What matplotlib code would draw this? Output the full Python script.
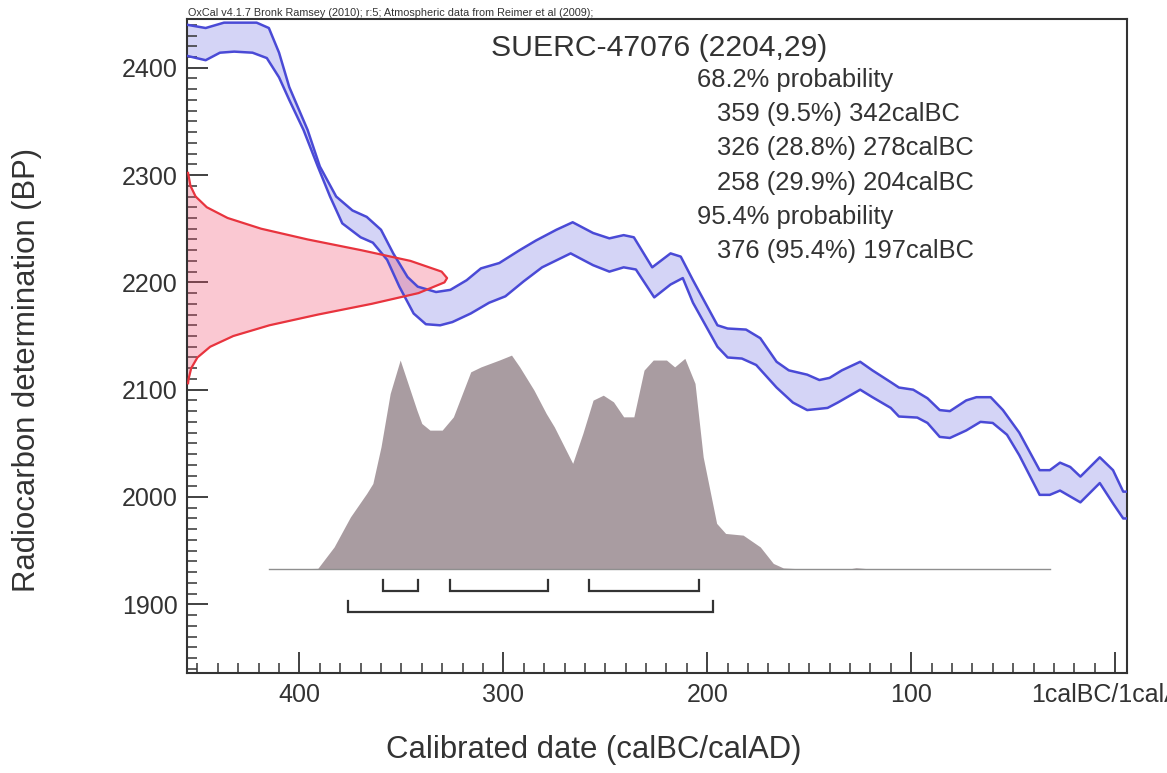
import numpy as np
import matplotlib
matplotlib.use("Agg")
import matplotlib.pyplot as plt

plt.rcParams['font.family'] = ['Liberation Sans', 'DejaVu Sans']

# ---------------- data ----------------
# calibration curve (IntCal09) band: upper and lower edges (calBC, BP)
upper_year = [455, 446, 437, 421, 415, 410, 405, 396, 390, 382, 374, 367, 360, 354, 347, 342,
              333, 326, 318, 311, 302, 292, 284, 274, 266, 256, 248, 241, 236, 227, 218, 213,
              207, 195, 190, 181, 174, 166, 160, 151, 145, 140, 134, 125, 119, 110, 106, 99,
              92, 86, 81, 73, 68, 61, 55, 47, 37, 32, 27, 22, 17, 7.5, 1, -4, -6]
upper_bp = [2440, 2437, 2442, 2442, 2437, 2414, 2382, 2342, 2308, 2280, 2267, 2261, 2249, 2227, 2205, 2196,
            2191, 2193, 2202, 2213, 2218, 2230, 2239, 2249, 2256, 2246, 2241, 2244, 2242, 2214, 2227, 2224,
            2202, 2160, 2157, 2156, 2148, 2126, 2118, 2114, 2109, 2111, 2118, 2126, 2118, 2107, 2102, 2100,
            2092, 2081, 2080, 2090, 2093, 2093, 2081, 2060, 2025, 2025, 2032, 2028, 2019, 2037, 2025, 2005, 2005]
lower_year = [455, 446, 439, 432, 423, 416, 410, 405, 398, 391, 385, 379, 370, 364, 357, 351, 344,
              338, 331, 325, 316, 307, 299, 290, 281, 267, 256, 248, 241, 235, 226, 218, 212, 207,
              195, 190, 183, 176, 166, 158, 151, 141, 136, 125, 119, 110, 106, 97, 92, 86, 81, 73,
              66, 60, 53, 47, 37, 32, 27, 17, 7.5, 1, -4, -6]
lower_bp = [2411, 2407, 2414, 2415, 2414, 2409, 2391, 2370, 2342, 2308, 2280, 2255, 2242, 2237, 2221, 2196, 2171,
            2161, 2160, 2163, 2171, 2181, 2187, 2201, 2214, 2227, 2216, 2210, 2214, 2212, 2186, 2198, 2204, 2181,
            2140, 2130, 2129, 2123, 2102, 2088, 2081, 2083, 2088, 2100, 2093, 2083, 2075, 2074, 2069, 2056, 2055, 2062,
            2070, 2069, 2058, 2039, 2002, 2002, 2006, 1995, 2013, 1994, 1980, 1980]

c14_bp = [2302, 2290, 2280, 2270, 2260, 2250, 2240, 2230, 2220, 2210, 2204,
          2200, 2190, 2180, 2170, 2160, 2150, 2140, 2130, 2120, 2110, 2106]
c14_prob = [0.003, 0.012, 0.032, 0.075, 0.155, 0.284, 0.463, 0.669, 0.859, 0.979, 1.0,
            0.99, 0.89, 0.71, 0.503, 0.316, 0.177, 0.088, 0.039, 0.015, 0.005, 0.003]

# calibrated posterior (relative probability vs calBC)
post_year = [415, 391, 383, 375, 367, 364, 360, 355.5, 350.6, 342.4, 340, 336, 330, 324.5,
             316, 311, 302, 296, 292, 285, 279, 275, 266, 261, 256, 251, 246, 241, 236,
             231, 226.5, 220, 216, 211, 206, 202, 195.4, 191, 182.4, 174, 167.6, 162.7,
             154.6, 130, 127, 122, 115, 32]
post_prob = [0.0, 0.005, 0.105, 0.245, 0.355, 0.401, 0.572, 0.821, 0.977, 0.743, 0.681, 0.650, 0.650, 0.712,
             0.922, 0.945, 0.977, 1.0, 0.945, 0.837, 0.728, 0.665, 0.495, 0.635, 0.790, 0.813, 0.782, 0.712, 0.712,
             0.930, 0.977, 0.977, 0.945, 0.985, 0.868, 0.525, 0.215, 0.168, 0.160, 0.105, 0.028, 0.007,
             0.003, 0.003, 0.008, 0.004, 0.002, 0.0]

# highest posterior density ranges (calBC)
ranges_68 = [(359, 342), (326, 278), (258, 204)]
ranges_95 = [(376, 197)]
pct_68 = ["9.5%", "28.8%", "29.9%"]
pct_95 = ["95.4%"]

sample_name = "SUERC-47076"
sample_bp, sample_err = 2204, 29

x_ticks = [400, 300, 200, 100, 0]
x_ticklabels = ["400", "300", "200", "100", "1calBC/1calAD"]
y_ticks = [1900, 2000, 2100, 2200, 2300, 2400]

# ---------------- drawing ----------------
W, H = 1167, 773
fig = plt.figure(figsize=(W / 100, H / 100), dpi=100)
L, R, T, B = 187.3, 1127.3, 19, 673
ax = fig.add_axes([L / W, 1 - B / H, (R - L) / W, (B - T) / H])
xlim = (455, -6)
ylim = (1836, 2445.4)
ax.set_xlim(*xlim)
ax.set_ylim(*ylim)

blue_line = '#4a4ad6'
blue_fill = '#d4d4f6'
red_line = '#e8343e'
grey = '#a99ca1'
dark = '#333333'

# calibration band
poly_x = np.concatenate([upper_year, lower_year[::-1]])
poly_y = np.concatenate([upper_bp, lower_bp[::-1]])
ax.fill(poly_x, poly_y, color=blue_fill, lw=0, zorder=1)

# radiocarbon probability (drawn sideways from the y axis)
red_amp = 127.4
c14_x = xlim[0] - red_amp * np.array(c14_prob)
ax.fill_betweenx(c14_bp, xlim[0], c14_x, color='#f04a6a', alpha=0.30, lw=0, zorder=2)

ax.plot(upper_year, upper_bp, color=blue_line, lw=1.8, zorder=3)
ax.plot(lower_year, lower_bp, color=blue_line, lw=1.8, zorder=3)
ax.plot(c14_x, c14_bp, color=red_line, lw=1.6, zorder=4)

# posterior
base = 1932.5
post_amp = 199.7
ax.fill_between(post_year, base, base + post_amp * np.array(post_prob), color=grey, lw=0, zorder=2)
ax.plot([post_year[0], post_year[-1]], [base, base], color='#8f8f8f', lw=1.0, zorder=2)

# range brackets
def bracket(a, b, y, h=10):
    ax.plot([a, a, b, b], [y + h, y, y, y + h], color=dark, lw=1.6, zorder=5,
            solid_joinstyle='miter')

for a, b in ranges_68:
    bracket(a, b, 1912.6)
for a, b in ranges_95:
    bracket(a, b, 1893.0)

# axes styling
ax.set_xticks(x_ticks)
ax.set_xticklabels(x_ticklabels)
ax.set_xticks(np.arange(450, -1, -10), minor=True)
ax.set_yticks(y_ticks)
ax.set_yticks(np.arange(1840, 2441, 10), minor=True)
ax.tick_params(which='both', direction='in', top=False, right=False, color=dark)
ax.tick_params(which='major', length=15, width=1.3, labelsize=18, labelcolor=dark, pad=7)
ax.tick_params(which='minor', length=7, width=1.1)
for s in ax.spines.values():
    s.set_color(dark)
    s.set_linewidth(1.5)

# texts
fig.text(188 / W, 1 - 16.5 / H,
         "OxCal v4.1.7 Bronk Ramsey (2010); r:5; Atmospheric data from Reimer et al (2009);",
         fontsize=7.8, color=dark, va='baseline', ha='left')
fig.text(491 / W, 1 - 48 / H, f"{sample_name} ({sample_bp},{sample_err})",
         fontsize=21.7, color=dark, va='center', ha='left')

lines = [("68.2% probability", 697)]
for (a, b), p in zip(ranges_68, pct_68):
    lines.append((f"{a} ({p}) {b}calBC", 717))
lines.append(("95.4% probability", 697))
for (a, b), p in zip(ranges_95, pct_95):
    lines.append((f"{a} ({p}) {b}calBC", 717))
y0 = 80
for i, (s, xp) in enumerate(lines):
    fig.text(xp / W, 1 - (y0 + 34.2 * i) / H, s, fontsize=18.4, color=dark,
             va='center', ha='left')

fig.text(594 / W, 1 - 750 / H, "Calibrated date (calBC/calAD)", fontsize=22.4,
         color=dark, ha='center', va='center')
fig.text(27 / W, 1 - 370 / H, "Radiocarbon determination (BP)", fontsize=22.4,
         color=dark, ha='center', va='center', rotation=90)

fig.savefig("out.png", dpi=100)
